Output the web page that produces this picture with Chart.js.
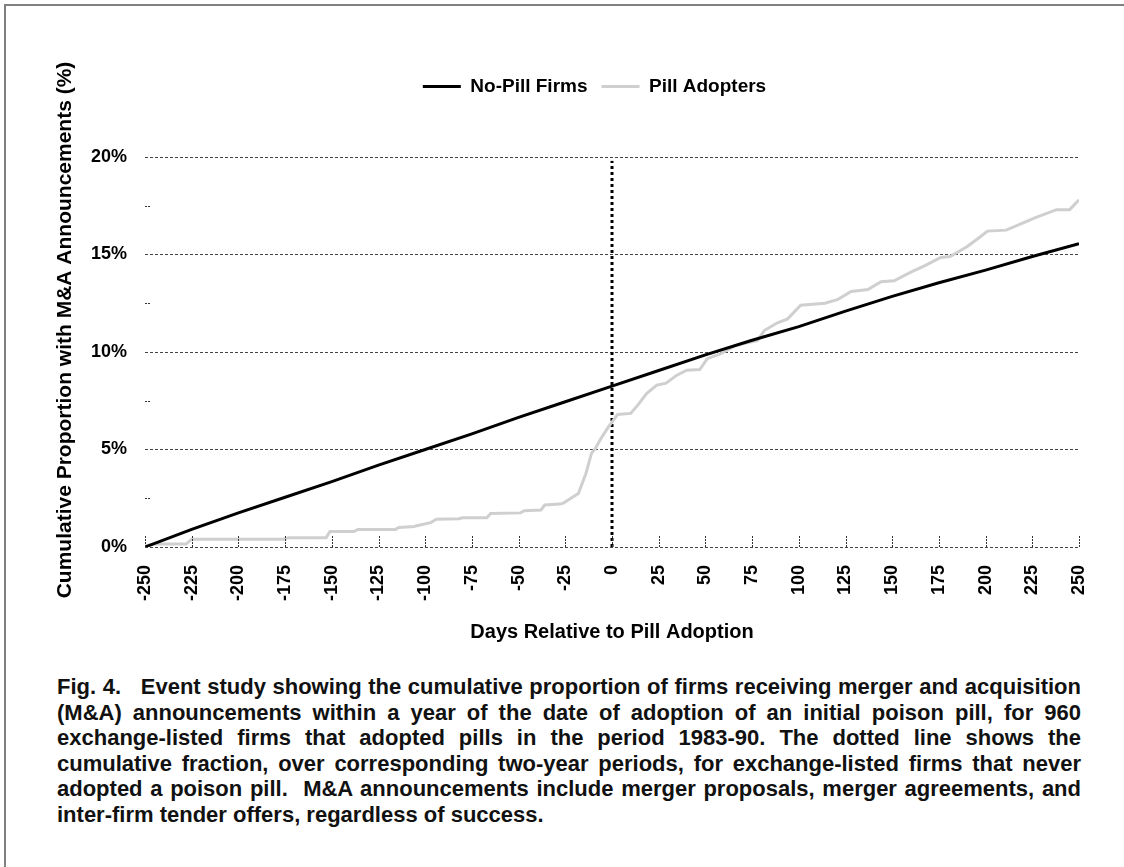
<!DOCTYPE html>
<html>
<head>
<meta charset="utf-8">
<script src="https://cdn.jsdelivr.net/npm/chart.js@4.4.0/dist/chart.umd.min.js"></script>
<style>
  html, body { margin: 0; padding: 0; background: #fff; }
  body { width: 1124px; height: 867px; position: relative; overflow: hidden; font-family: "Liberation Sans", Arial, sans-serif; }
  #frame { position: absolute; left: 4px; top: 4px; width: 1200px; height: 1000px; border-left: 2px solid #808080; border-top: 2px solid #808080; }
  #wrap { position: absolute; left: 0; top: 0; width: 1124px; height: 650px; }
  #caption { position: absolute; left: 57px; top: 674px; width: 1024px; font-weight: bold; font-size: 22px; line-height: 25.6px; color: #111; }
  #caption div { text-align: justify; text-align-last: justify; white-space: nowrap; }
  #caption div.last { text-align-last: left; }
</style>
</head>
<body>
<div id="frame"></div>
<div id="wrap"><canvas id="chart" width="1124" height="650"></canvas></div>
<div id="caption">
  <div>Fig. 4.&nbsp;&nbsp; Event study showing the cumulative proportion of firms receiving merger and acquisition</div>
  <div>(M&amp;A) announcements within a year of the date of adoption of an initial poison pill, for 960</div>
  <div>exchange-listed firms that adopted pills in the period 1983-90. The dotted line shows the</div>
  <div>cumulative fraction, over corresponding two-year periods, for exchange-listed firms that never</div>
  <div>adopted a poison pill.&nbsp; M&amp;A announcements include merger proposals, merger agreements, and</div>
  <div class="last">inter-firm tender offers, regardless of success.</div>
</div>
<script>
// days relative to pill adoption
const noPillDays = [-250, -225, -200, -175, -150, -125, -100, -75, -50, -25, 0, 25, 50, 75, 100, 125, 150, 175, 200, 225, 250];
const noPillPct = [0, 0.9, 1.75, 2.55, 3.35, 4.2, 5.0, 5.8, 6.65, 7.45, 8.25, 9.05, 9.85, 10.6, 11.3, 12.1, 12.85, 13.55, 14.2, 14.9, 15.55];

const pillDays = [-250, -245, -228, -225, -176, -173, -153, -151, -138, -136, -116, -114, -106, -104, -97, -94, -82, -80, -67, -65,
  -49, -47, -38, -36, -28, -26, -22, -18, -14, -11, -9, -6, -2, 0, 3, 10, 14, 18.5, 24, 29, 34.5, 40, 47, 51, 58, 65.5, 71, 78,
  81.5, 88.6, 94, 101, 114, 121, 128, 137, 144, 151, 160, 167, 176, 181, 190, 197, 201, 211, 222, 227, 238, 245, 250];
const pillPct = [0.05, 0.15, 0.15, 0.4, 0.4, 0.48, 0.48, 0.8, 0.8, 0.9, 0.9, 1.0, 1.05, 1.1, 1.25, 1.42, 1.45, 1.5, 1.5, 1.72,
  1.75, 1.86, 1.9, 2.15, 2.2, 2.25, 2.5, 2.74, 3.76, 4.8, 5.04, 5.55, 6.15, 6.4, 6.8, 6.85, 7.3, 7.87, 8.3, 8.4, 8.8, 9.07, 9.1, 9.66, 9.9, 10.3, 10.45, 10.6,
  11.1, 11.5, 11.7, 12.4, 12.5, 12.7, 13.1, 13.2, 13.6, 13.65, 14.1, 14.4, 14.85, 14.9, 15.4, 15.9, 16.2, 16.25, 16.7, 16.9, 17.3, 17.3, 17.8];

// vertical marker at adoption day
const markerDays = [0, 0];
const markerPct = [0, 19.8];

const yTicks = [0, 5, 10, 15, 20];
const yMinorTicks = [2.5, 7.5, 12.5, 17.5];

const seriesNames = ['No-Pill Firms', 'Pill Adopters'];
const yTitle = 'Cumulative Proportion with M&A Announcements (%)';
const FONT = '"Liberation Sans", Arial, sans-serif';

const toPoints = (xs, ys) => xs.map((x, i) => ({ x: x, y: ys[i] }));

// legend spacing, small tick marks inside the plot, and the y title
const extras = {
  id: 'extras',
  beforeLayout(chart) {
    const lg = chart.legend;
    if (lg && !lg._patched) {
      const fit = lg.fit.bind(lg);
      lg.fit = function () { fit(); this.height = 94; };
      const draw = lg.draw.bind(lg);
      lg.draw = function () {
        this.ctx.save();
        this.ctx.translate(29, 0);
        draw();
        this.ctx.restore();
      };
      lg._patched = true;
    }
  },
  afterDatasetsDraw(chart) {
    const { ctx, chartArea, scales } = chart;
    ctx.save();
    ctx.strokeStyle = '#333';
    ctx.lineWidth = 1;
    ctx.setLineDash([2, 1]);
    for (let d = -250; d <= 250; d += 25) {
      const x = Math.round(scales.x.getPixelForValue(d)) + 0.5;
      ctx.beginPath();
      ctx.moveTo(x, chartArea.bottom);
      ctx.lineTo(x, chartArea.bottom - 11);
      ctx.stroke();
    }
    yMinorTicks.forEach(v => {
      const y = Math.round(scales.y.getPixelForValue(v)) + 0.5;
      ctx.beginPath();
      ctx.moveTo(chartArea.left, y);
      ctx.lineTo(chartArea.left + 6, y);
      ctx.stroke();
    });
    ctx.setLineDash([]);
    ctx.translate(65, 330);
    ctx.rotate(-Math.PI / 2);
    ctx.fillStyle = '#000';
    ctx.font = 'bold 21px ' + FONT;
    ctx.textAlign = 'center';
    ctx.textBaseline = 'middle';
    ctx.fillText(yTitle, 0, 0);
    ctx.restore();
  }
};

const ctx = document.getElementById('chart').getContext('2d');
const chart = new Chart(ctx, {
  type: 'line',
  data: {
    datasets: [{
      label: seriesNames[0],
      data: toPoints(noPillDays, noPillPct),
      borderColor: '#000',
      backgroundColor: '#000',
      borderWidth: 3,
      pointRadius: 0,
      tension: 0
    }, {
      label: seriesNames[1],
      data: toPoints(pillDays, pillPct),
      borderColor: '#cfcfcf',
      backgroundColor: '#cfcfcf',
      borderWidth: 3,
      pointRadius: 0,
      tension: 0
    }, {
      label: 'marker',
      data: toPoints(markerDays, markerPct),
      borderColor: '#000',
      borderWidth: 3,
      borderDash: [3, 3],
      pointRadius: 0
    }]
  },
  options: {
    responsive: false,
    animation: false,
    layout: { padding: { left: 52, right: 45, top: 63, bottom: 0 } },
    plugins: {
      tooltip: { enabled: false },
      legend: {
        position: 'top',
        labels: {
          filter: item => item.text !== 'marker',
          usePointStyle: true,
          pointStyle: 'line',
          pointStyleWidth: 38,
          padding: 14,
          color: '#000',
          font: { family: FONT, size: 19, weight: 'bold' }
        }
      }
    },
    scales: {
      x: {
        type: 'linear',
        min: -250,
        max: 250,
        afterFit: s => { s.height = 103; },
        grid: { display: false },
        border: { display: false },
        ticks: {
          stepSize: 25,
          minRotation: 90,
          maxRotation: 90,
          padding: 10,
          color: '#000',
          font: { family: FONT, size: 18, weight: 'bold' }
        },
        title: {
          display: true,
          text: 'Days Relative to Pill Adoption',
          color: '#000',
          padding: { top: 0, bottom: 6 },
          font: { family: FONT, size: 20, weight: 'bold' }
        }
      },
      y: {
        min: 0,
        max: 20,
        afterFit: s => { s.width = 93; },
        afterBuildTicks: s => { s.ticks = yTicks.map(v => ({ value: v })); },
        grid: { color: '#444', lineWidth: 1, drawTicks: false },
        border: { display: false, dash: [3, 2] },
        ticks: {
          padding: 18,
          color: '#000',
          callback: v => v + '%',
          font: { family: FONT, size: 18, weight: 'bold' }
        }
      }
    }
  },
  plugins: [extras]
});
</script>
</body>
</html>
